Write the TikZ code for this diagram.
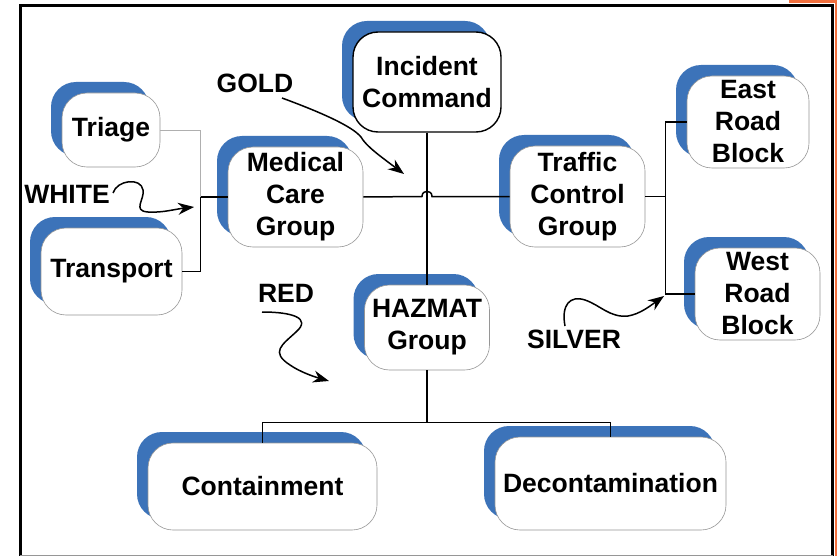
\documentclass[tikz,border=0pt]{standalone}
\usepackage{fontspec}
\setmainfont{Liberation Sans}
\usetikzlibrary{shadows,arrows.meta}
\definecolor{sblue}{RGB}{60,115,185}
\definecolor{boxgray}{RGB}{150,150,150}
\definecolor{lightline}{RGB}{175,175,175}
\definecolor{orangeedge}{RGB}{242,112,62}
\begin{document}
\begin{tikzpicture}[x=1pt,y=-1pt,
  box/.style={draw=boxgray, line width=0.6pt, fill=white, rounded corners=25pt,
    align=center, inner sep=0pt,
    font=\bfseries\fontsize{26.5}{32}\selectfont,
    general shadow={fill=sblue, shadow xshift=-11pt, shadow yshift=11pt}},
  lbl/.style={anchor=base, inner sep=0pt, font=\bfseries\fontsize{26.5}{32}\selectfont},
  conn/.style={draw=black, line width=1.5pt},
  wavy/.style={draw=black, line width=1.5pt, -{Stealth[length=16pt,width=12pt]}}]
\useasboundingbox (0,0) rectangle (837,556);
% frame
\fill[white] (0,0) rectangle (837,556);
\fill[orangeedge] (789,0) rectangle (837,3);
\fill[orangeedge] (835,0) rectangle (837,556);
\draw[line width=3pt, line cap=rect] (20,555) -- (20,5.5) -- (832.5,5.5) -- (832.5,555);
\draw[boxgray, line width=1pt] (20,555.5) -- (832.5,555.5);
% boxes
\node[box, draw=black, line width=1.4pt, minimum width=148pt, minimum height=100pt] (ic) at (427,82) {Incident\\Command};
\node[box, minimum width=98pt, minimum height=74pt] (triage) at (111,130) {Triage};
\node[box, minimum width=135pt, minimum height=100pt] (med) at (295.5,197) {Medical\\Care\\Group};
\node[box, minimum width=141pt, minimum height=87pt] (transport) at (111.5,271.5) {Transport};
\node[box, minimum width=135pt, minimum height=101pt] (traffic) at (577.5,196.5) {Traffic\\Control\\Group};
\node[box, minimum width=122pt, minimum height=92pt] (east) at (748,122) {East\\Road\\Block};
\node[box, minimum width=125pt, minimum height=92pt] (west) at (757.5,294) {West\\Road\\Block};
\node[box, minimum width=125pt, minimum height=85pt] (hazmat) at (427,327.5) {HAZMAT\\Group};
\node[box, minimum width=229pt, minimum height=87pt] (cont) at (262.5,486.5) {Containment};
\node[box, minimum width=231pt, minimum height=93pt] (decon) at (610.5,483.5) {Decontamination};
% connectors
\coordinate (hopL) at (422,196.5);
\coordinate (hopR) at (432,196.5);
\draw[conn] (med.east) -- (hopL) .. controls (422,189.5) and (432,189.5) .. (hopR) -- (traffic.west);
\draw[conn] (ic.south) -- (hazmat.north);
\draw[conn] (hazmat.south) -- ++(0,52) coordinate (bus);
\draw[conn] (cont.north) |- (bus) -| (decon.north);
\draw[conn] (med.west) -- ++(-27,0) coordinate (mj);
\draw[lightline, line width=0.9pt] (triage.east) -| (mj);
\draw[conn] (transport.east) -| (mj);
\draw[conn] (traffic.east) -- ++(20,0) coordinate (tj);
\draw[conn] (east.west) -| (tj);
\draw[conn] (west.west) -| (tj);
% labels
\node[lbl] (gold) at (255,93) {GOLD};
\node[lbl] (white) at (67,203) {WHITE};
\node[lbl] (red) at (286,302) {RED};
\node[lbl] (silver) at (574,348) {SILVER};
% wavy arrows
\coordinate (goldS) at (282,98);
\coordinate (goldT) at (404,174);
\draw[wavy] (goldS) .. controls (320,112) and (352,126) .. (361,137) .. controls (366,146) and (380,156) .. (goldT);
\coordinate (whiteS) at (113,193);
\coordinate (whiteT) at (194,207);
\draw[wavy] (whiteS) .. controls (117,180) and (141,177) .. (143,190) .. controls (145,199) and (132,211) .. (148,212) .. controls (162,213) and (176,209) .. (whiteT);
\coordinate (redS) at (262,312);
\coordinate (redT) at (329,381);
\draw[wavy] (redS) .. controls (292,312) and (312,318) .. (296,332) .. controls (282,345) and (270,352) .. (290,365) .. controls (300,372) and (315,377) .. (redT);
\coordinate (silverS) at (565,326);
\coordinate (silverT) at (664,296);
\draw[wavy] (silverS) .. controls (561,305) and (570,295) .. (585,300) .. controls (600,305) and (610,318) .. (628,316) .. controls (640,314) and (650,306) .. (silverT);
\end{tikzpicture}
\end{document}
